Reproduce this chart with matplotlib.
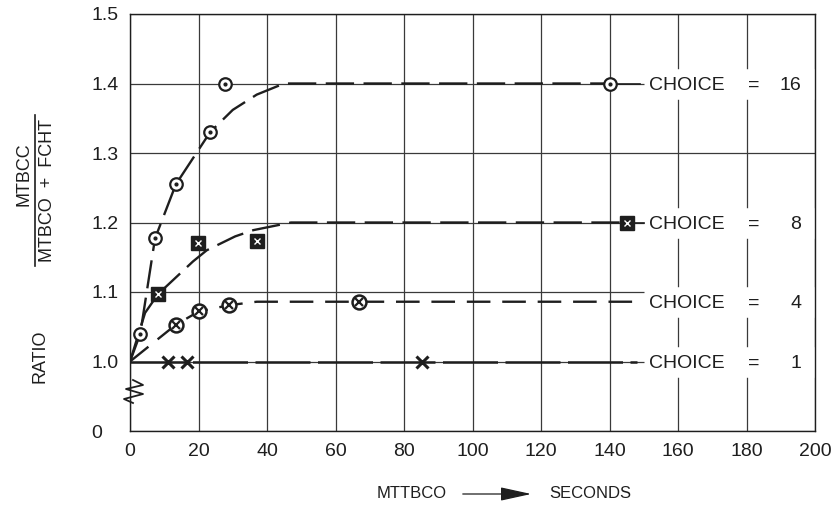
import numpy as np
import matplotlib
matplotlib.use("Agg")
import matplotlib.pyplot as plt
from matplotlib.lines import Line2D
from matplotlib.patches import FancyArrowPatch

plt.rcParams['font.family'] = ['Liberation Sans', 'DejaVu Sans']

# ---- data -------------------------------------------------------------
x_ticks = [0, 20, 40, 60, 80, 100, 120, 140, 160, 180, 200]
y_ticks = [0, 1.0, 1.1, 1.2, 1.3, 1.4, 1.5]
y_tick_labels = ["0", "1.0", "1.1", "1.2", "1.3", "1.4", "1.5"]

# CHOICE = 16 : measured points and faired curve
c16_pts_x = [2.9, 7.3, 13.4, 23.4, 27.7, 140]
c16_pts_y = [1.039, 1.177, 1.255, 1.330, 1.400, 1.400]
c16_curve_x = [0, 3, 7.3, 13.4, 23.4, 30, 37, 45, 140]
c16_curve_y = [1.0, 1.04, 1.177, 1.255, 1.330, 1.362, 1.384, 1.400, 1.400]

# CHOICE = 8
c8_pts_x = [8.2, 19.9, 37.0, 145]
c8_pts_y = [1.097, 1.170, 1.173, 1.200]
c8_curve_x = [0, 4.4, 8.2, 18.4, 22.4, 30.7, 36, 47, 145]
c8_curve_y = [1.0, 1.07, 1.097, 1.144, 1.160, 1.180, 1.189, 1.200, 1.200]

# CHOICE = 4
c4_pts_x = [13.4, 20.1, 28.9, 66.9]
c4_pts_y = [1.053, 1.072, 1.081, 1.086]
c4_curve_x = [0, 13.4, 20.1, 28.9, 37, 148]
c4_curve_y = [1.0, 1.053, 1.072, 1.081, 1.086, 1.086]

# CHOICE = 1
c1_pts_x = [11.1, 16.6, 85.3]
c1_pts_y = [1.0, 1.0, 1.0]
c1_curve_x = [0, 148]
c1_curve_y = [1.0, 1.0]

choices = ["16", "8", "4", "1"]

# ---- broken y scale: 0..1.0 compressed into one division ---------------
def fwd(y):
    y = np.asarray(y, dtype=float)
    return np.where(y >= 1.0, 1.0 + (y - 1.0) * 10.0, y)

def inv(u):
    u = np.asarray(u, dtype=float)
    return np.where(u >= 1.0, 1.0 + (u - 1.0) / 10.0, u)

INK = "#1e1e1e"
GRID = "#3a3a3a"

fig = plt.figure(figsize=(8.4, 5.12), dpi=100)
ax = fig.add_axes([130 / 840, (512 - 431) / 512, 685 / 840, 417 / 512])
ax.set_yscale('function', functions=(fwd, inv))
ax.set_xlim(0, 200)
ax.set_ylim(0, 1.5)
ax.set_xticks(x_ticks)
ax.set_xticklabels([str(v) for v in x_ticks])
ax.set_yticks(y_ticks)
ax.set_yticklabels(y_tick_labels)
ax.minorticks_off()
ax.tick_params(axis='both', length=0, labelsize=14, colors=INK)
ax.tick_params(axis='x', pad=9)
ax.tick_params(axis='y', pad=28)
for lab in ax.get_yticklabels():
    lab.set_horizontalalignment('left')
ax.grid(True, color=GRID, lw=0.9)
ax.set_axisbelow(True)
for s in ax.spines.values():
    s.set_color(INK)
    s.set_linewidth(1.0)
    s.set_zorder(6)

# faired curves
ax.plot(c16_curve_x, c16_curve_y, color=INK, lw=1.7, dashes=(12, 4), zorder=3)
ax.plot(c8_curve_x, c8_curve_y, color=INK, lw=1.7, dashes=(12, 4), zorder=3)
ax.plot(c4_curve_x, c4_curve_y, color=INK, lw=1.7, dashes=(10, 5), zorder=3)
ax.plot(c1_curve_x, c1_curve_y, color=INK, lw=1.8, dashes=(22, 3), zorder=3)

# leader lines into the labels
ax.plot([c16_curve_x[-1], 149], [c16_curve_y[-1]] * 2, color=INK, lw=1.2, zorder=3)
ax.plot([c8_curve_x[-1], 150], [c8_curve_y[-1]] * 2, color=INK, lw=1.2, zorder=3)

# markers
ax.plot(c16_pts_x, c16_pts_y, ls='none', marker='o', ms=9, mfc='white',
        mec=INK, mew=1.6, zorder=4)
ax.plot(c16_pts_x, c16_pts_y, ls='none', marker='.', ms=4, color=INK, zorder=5)

ax.plot(c8_pts_x, c8_pts_y, ls='none', marker='s', ms=10, mfc=INK,
        mec=INK, zorder=4)
ax.plot(c8_pts_x, c8_pts_y, ls='none', marker='x', ms=5, mec='white',
        mew=1.0, zorder=5)

ax.plot(c4_pts_x, c4_pts_y, ls='none', marker='o', ms=10, mfc='white',
        mec=INK, mew=1.8, zorder=4)
ax.plot(c4_pts_x, c4_pts_y, ls='none', marker='x', ms=6, mec=INK,
        mew=1.6, zorder=5)

ax.plot(c1_pts_x, c1_pts_y, ls='none', marker='x', ms=8, mec=INK,
        mew=2.2, zorder=4)

# label rows: white band, then text
plateaus = [c16_curve_y[-1], c8_curve_y[-1], c4_curve_y[-1], c1_curve_y[-1]]
for name, yv in zip(choices, plateaus):
    ax.plot([150, 200], [yv, yv], color='white', lw=22, solid_capstyle='butt',
            zorder=2.2)
    ax.text(151.5, yv, "CHOICE", fontsize=14, color=INK, ha='left',
            va='center_baseline', zorder=5)
    ax.text(182, yv, "=", fontsize=14, color=INK, ha='center',
            va='center_baseline', zorder=5)
    ax.text(196, yv, name, fontsize=14, color=INK, ha='right',
            va='center_baseline', zorder=5)

# axis-break zigzag between 0 and 1.0
zz_x = [(133 - 130) / 685, (143 - 130) / 685, (126 - 130) / 685,
        (143 - 130) / 685, (124 - 130) / 685, (133 - 130) / 685]
zz_y = [(431 - 380) / 417, (431 - 385) / 417, (431 - 389) / 417,
        (431 - 394) / 417, (431 - 399) / 417, (431 - 403) / 417]
ax.add_line(Line2D(zz_x, zz_y, transform=ax.transAxes, color=INK, lw=1.3,
                   clip_on=False, zorder=6))

# y-axis title: RATIO  MTBCC / (MTBCO + FCHT)
def fx(px):
    return px / 840

def fy(py):
    return 1 - py / 512

fig.text(fx(40), fy(356), "RATIO", rotation=90, fontsize=13, color=INK,
         ha='center', va='center')
fig.text(fx(24), fy(174), "MTBCC", rotation=90, fontsize=13, color=INK,
         ha='center', va='center')
fig.text(fx(47), fy(190), "MTBCO  +  FCHT", rotation=90, fontsize=13,
         color=INK, ha='center', va='center')
fig.add_artist(Line2D([fx(35), fx(35)], [fy(115), fy(266)], color=INK, lw=1.2))

# x-axis title
fig.text(fx(412), fy(494), "MTTBCO", fontsize=12, color=INK, ha='center',
         va='center')
fig.text(fx(590), fy(494), "SECONDS", fontsize=12, color=INK, ha='center',
         va='center')
fig.add_artist(FancyArrowPatch(
    (fx(460), fy(494)), (fx(534), fy(494)), transform=fig.transFigure,
    arrowstyle='-|>,head_length=1.6,head_width=0.35', mutation_scale=12,
    color=INK, lw=0.9))

fig.savefig("out.png", dpi=100, facecolor='white')
